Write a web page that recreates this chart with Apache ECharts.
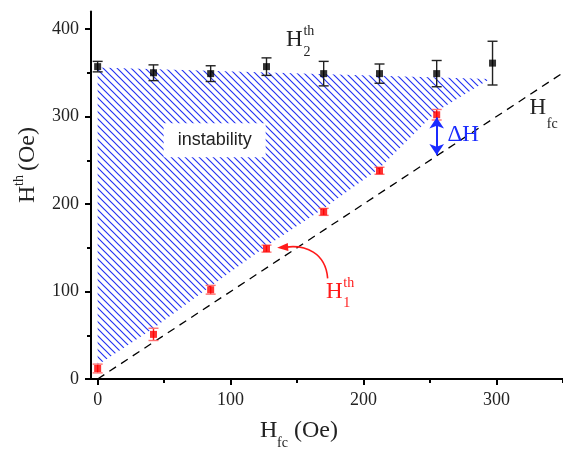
<!DOCTYPE html>
<html>
<head>
<meta charset="utf-8">
<script src="https://cdn.jsdelivr.net/npm/echarts@6/dist/echarts.min.js"></script>
<style>
html, body { margin: 0; padding: 0; background: #fff; }
#chart { width: 563px; height: 453px; }
</style>
</head>
<body>
<div id="chart"></div>
<script>
// upper threshold H2th (black)
const h2X = [0, 42, 85, 127, 170, 212, 255, 297];
const h2Y = [357, 350, 349, 357, 349, 349, 349, 361];
const h2Err = [6, 9, 9, 10, 14, 11, 15, 25];
// lower threshold H1th (red)
const h1X = [0, 42, 85, 127, 170, 212, 255];
const h1Y = [12, 51, 102, 149, 191, 238, 302];
const h1Err = [5, 7, 5, 4, 4, 4, 6];
// outline of the hatched instability region
const regionX = [0, 295, 255, 212, 170, 127, 85, 42, 0];
const regionY = [356, 343, 306, 241, 195, 152, 106, 58, 16];
// H = Hfc line
const fcLine = [0, 350];
// delta H arrow
const dHx = 255;
const dHrange = [256, 299];
// ticks
const xTicks = [0, 100, 200, 300];
const xMinor = [50, 150, 250, 350];
const yTicks = [0, 100, 200, 300, 400];
const yMinor = [50, 150, 250, 350];

const serif = '"Liberation Serif", "DejaVu Serif", serif';

function hatch() {
    const c = document.createElement('canvas');
    c.width = 7; c.height = 7;
    const g = c.getContext('2d');
    g.strokeStyle = '#2433f2';
    g.lineWidth = 1.15;
    g.beginPath();
    g.moveTo(-1, -1); g.lineTo(8, 8);
    g.moveTo(-1, 6); g.lineTo(1, 8);
    g.moveTo(6, -1); g.lineTo(8, 1);
    g.stroke();
    return c;
}

function txt(x, y, text, size, color, align) {
    return {
        type: 'text', x: x, y: y,
        style: {
            text: text, fill: color, fontSize: size, fontFamily: serif,
            align: align || 'left', verticalAlign: 'middle',
            textAlign: align || 'left', textVerticalAlign: 'middle'
        }
    };
}

function errSeries(xs, ys, es, color, capColor) {
    return {
        type: 'custom', z: 3, silent: true,
        data: xs.map((x, i) => [x, ys[i], es[i]]),
        renderItem: function (params, api) {
            const x = api.value(0), y = api.value(1), e = api.value(2);
            const t = api.coord([x, y + e]), b = api.coord([x, y - e]);
            return {
                type: 'group', children: [
                    { type: 'line', shape: { x1: t[0], y1: t[1], x2: b[0], y2: b[1] }, style: { stroke: color, lineWidth: 1.4 } },
                    { type: 'line', shape: { x1: t[0] - 5, y1: t[1], x2: t[0] + 5, y2: t[1] }, style: { stroke: capColor, lineWidth: 1.4 } },
                    { type: 'line', shape: { x1: b[0] - 5, y1: b[1], x2: b[0] + 5, y2: b[1] }, style: { stroke: capColor, lineWidth: 1.4 } }
                ]
            };
        }
    };
}

// H with superscript and subscript, anchored at the centre of "H"
function mathLabel(pos, sup, sub, color, subDy) {
    return {
        type: 'custom', z: 6, silent: true,
        data: [pos],
        renderItem: function (params, api) {
            const p = api.coord([api.value(0), api.value(1)]);
            const kids = [txt(p[0], p[1], 'H', 23, color, 'center')];
            if (sup) kids.push(txt(p[0] + 9, p[1] - 9, sup, 14, color));
            if (sub) kids.push(txt(p[0] + 9, p[1] + subDy, sub, 14, color));
            return { type: 'group', children: kids };
        }
    };
}

const chart = echarts.init(document.getElementById('chart'));

const option = {
    backgroundColor: '#fff',
    animation: false,
    grid: { left: 91, right: 0, top: 11.5, bottom: 74 },
    xAxis: [{
        type: 'value', min: -5, max: 350,
        axisLine: { onZero: false, lineStyle: { color: '#000', width: 2 } },
        axisTick: { length: 6, lineStyle: { color: '#000', width: 2 }, customValues: xTicks },
        axisLabel: { customValues: xTicks, margin: 12, fontFamily: serif, fontSize: 18, color: '#222' },
        splitLine: { show: false }
    }, {
        type: 'value', min: -5, max: 350, position: 'bottom',
        axisLine: { show: false, onZero: false },
        axisTick: { length: 4, lineStyle: { color: '#000', width: 2 }, customValues: xMinor },
        axisLabel: { show: false },
        splitLine: { show: false }
    }],
    yAxis: [{
        type: 'value', min: 0, max: 420,
        axisLine: { show: true, onZero: false, lineStyle: { color: '#000', width: 2 } },
        axisTick: { show: true, length: 6, lineStyle: { color: '#000', width: 2 }, customValues: yTicks },
        axisLabel: { customValues: yTicks, margin: 12, fontFamily: serif, fontSize: 18, color: '#222' },
        splitLine: { show: false }
    }, {
        type: 'value', min: 0, max: 420, position: 'left',
        axisLine: { show: false, onZero: false },
        axisTick: { show: true, length: 4, lineStyle: { color: '#000', width: 2 }, customValues: yMinor },
        axisLabel: { show: false },
        splitLine: { show: false }
    }],
    graphic: [
        // y axis title
        {
            type: 'group', x: 28, y: 164, rotation: Math.PI / 2,
            children: [
                txt(-39, 0, 'H', 24, '#222'),
                txt(-22, -9, 'th', 14, '#222'),
                txt(-7, 0, '(Oe)', 24, '#222')
            ]
        },
        // x axis title
        {
            type: 'group', x: 298, y: 431,
            children: [
                txt(-38, 0, 'H', 24, '#222'),
                txt(-21, 12, 'fc', 14, '#222'),
                txt(-4, 0, '(Oe)', 24, '#222')
            ]
        }
    ],
    series: [
        {
            // hatched instability region
            type: 'custom', z: 1, silent: true,
            data: [0],
            renderItem: function (params, api) {
                const pts = regionX.map((x, i) => api.coord([x, regionY[i]]));
                return {
                    type: 'polygon',
                    shape: { points: pts },
                    style: { fill: { image: hatch(), repeat: 'repeat' }, stroke: null }
                };
            }
        },
        {
            type: 'line', z: 2, silent: true,
            data: fcLine.map(v => [v, v]),
            symbol: 'none',
            lineStyle: { color: '#000', width: 1.3, type: [8, 6] },
            markLine: {
                silent: true, animation: false,
                symbol: ['arrow', 'arrow'], symbolSize: 11,
                label: { show: false },
                lineStyle: { color: '#1a2bff', width: 2, type: 'solid' },
                data: [[{ coord: [dHx, dHrange[0]] }, { coord: [dHx, dHrange[1]] }]]
            }
        },
        {
            // curved red pointer from the H1 label to its point
            type: 'custom', z: 5, silent: true,
            data: [[173, 115, 135, 150]],
            renderItem: function (params, api) {
                const a = api.coord([api.value(0), api.value(1)]);
                const b = api.coord([api.value(2), api.value(3)]);
                const cp = [b[0] + 42, b[1] - 3];
                const dx = b[0] - cp[0], dy = b[1] - cp[1];
                const len = Math.sqrt(dx * dx + dy * dy);
                const ux = dx / len, uy = dy / len;
                const tip = [b[0], b[1]];
                const base = [tip[0] - ux * 11, tip[1] - uy * 11];
                const end = [tip[0] - ux * 9, tip[1] - uy * 9];
                return {
                    type: 'group', children: [
                        {
                            type: 'bezierCurve',
                            shape: { x1: a[0], y1: a[1], x2: end[0], y2: end[1], cpx1: a[0] - 2, cpy1: a[1] - 26, cpx2: cp[0] - 14, cpy2: cp[1] },
                            style: { stroke: '#ff1a1a', lineWidth: 1.6, fill: null }
                        },
                        {
                            type: 'polygon',
                            shape: { points: [tip, [base[0] - uy * 4, base[1] + ux * 4], [base[0] + uy * 4, base[1] - ux * 4]] },
                            style: { fill: '#ff1a1a' }
                        }
                    ]
                };
            }
        },
        errSeries(h2X, h2Y, h2Err, '#222', '#222'),
        errSeries(h1X, h1Y, h1Err, '#ff1a1a', '#ff7070'),
        {
            type: 'scatter', z: 4, silent: true,
            symbol: 'rect', symbolSize: 7,
            itemStyle: { color: '#000' },
            data: h2X.map((x, i) => [x, h2Y[i]])
        },
        {
            type: 'scatter', z: 4, silent: true,
            symbol: 'rect', symbolSize: 7,
            itemStyle: { color: '#ff0000' },
            data: h1X.map((x, i) => [x, h1Y[i]])
        },
        {
            // instability label box
            type: 'custom', z: 6, silent: true,
            data: [[88, 273]],
            renderItem: function (params, api) {
                const p = api.coord([api.value(0), api.value(1)]);
                return {
                    type: 'text', x: p[0], y: p[1],
                    style: {
                        text: 'instability', fill: '#222', fontSize: 18,
                        fontFamily: '"Liberation Sans", Arial, sans-serif',
                        backgroundColor: '#fff', padding: [8, 14, 8, 14],
                        align: 'center', verticalAlign: 'middle',
                        textAlign: 'center', textVerticalAlign: 'middle'
                    }
                };
            }
        },
        mathLabel([148, 387], 'th', '2', '#222', 12),
        mathLabel([331, 310], null, 'fc', '#222', 17),
        mathLabel([178, 99], 'th', '1', '#ff1a1a', 11),
        {
            type: 'custom', z: 6, silent: true,
            data: [[275, 279]],
            renderItem: function (params, api) {
                const p = api.coord([api.value(0), api.value(1)]);
                return txt(p[0], p[1], 'ΔH', 23, '#1a2bff', 'center');
            }
        }
    ]
};

chart.setOption(option);
</script>
</body>
</html>
